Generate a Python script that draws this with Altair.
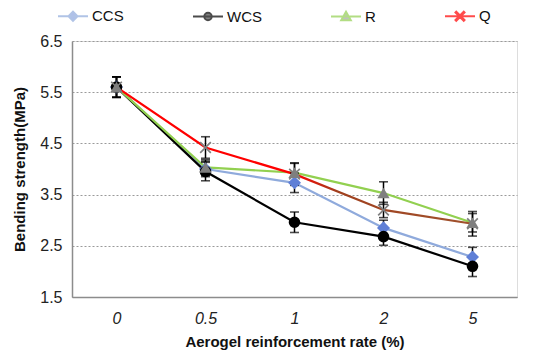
import altair as alt
import pandas as pd

rates = ["0", "0.5", "1", "2", "5"]
series = ["CCS", "WCS", "R", "Q"]
ccs = [5.60, 4.00, 3.73, 2.85, 2.28]
wcs = [5.60, 3.95, 2.96, 2.68, 2.10]
r_vals = [5.60, 4.03, 3.93, 3.53, 2.95]
q_vals = [5.60, 4.42, 3.90, 3.20, 2.93]
ccs_err = [0.20, 0.15, 0.19, 0.15, 0.19]
wcs_err = [0.20, 0.18, 0.20, 0.17, 0.20]
r_err = [0.20, 0.15, 0.18, 0.22, 0.18]
q_err = [0.20, 0.21, 0.22, 0.15, 0.24]

values = {"CCS": ccs, "WCS": wcs, "R": r_vals, "Q": q_vals}
errors = {"CCS": ccs_err, "WCS": wcs_err, "R": r_err, "Q": q_err}
rows = []
for s in series:
    for i, rt in enumerate(rates):
        rows.append({"series": s, "rate": rt, "value": values[s][i], "err": errors[s][i]})
df = pd.DataFrame(rows)

FONT = "Liberation Sans"
line_colors = ["#8FAADC", "#000000", "#92D050", "#FF0000"]
marker_colors = ["#5F7FD6", "#000000", "#7F7F7F", "#7F7F7F"]
legend_paths = [
    "M-1,0H1M0,-0.3L0.3,0L0,0.3L-0.3,0Z",
    "M-1,0H1M0.25,0A0.25,0.25 0 1,1 -0.25,0A0.25,0.25 0 1,1 0.25,0Z",
    "M-1,0H1M0,-0.32L0.32,0.25L-0.32,0.25Z",
    "M-1,0H1M-0.25,-0.3L0,-0.05L0.25,-0.3L0.3,-0.25L0.05,0L0.3,0.25L0.25,0.3L0,0.05L-0.25,0.3L-0.3,0.25L-0.05,0L-0.3,-0.25Z",
]

x_enc = alt.X(
    "rate:N",
    sort=rates,
    scale=alt.Scale(type="point", padding=0.5),
    axis=alt.Axis(
        title="Aerogel reinforcement rate (%)",
        labelAngle=0,
        labelFontStyle="italic",
        labelFontSize=16,
        labelFont=FONT,
        labelColor="#222222",
        labelPadding=13,
        ticks=False,
        domainColor="#8C8C8C",
        domainWidth=1.5,
        grid=False,
        titleFont=FONT,
        titleFontSize=15,
        titleFontWeight="bold",
        titleColor="#111111",
        titlePadding=8,
    ),
)
y_enc = alt.Y(
    "value:Q",
    scale=alt.Scale(domain=[1.5, 6.5], nice=False, zero=False),
    axis=alt.Axis(
        title="Bending strength(MPa)",
        values=[1.5, 2.5, 3.5, 4.5, 5.5, 6.5],
        format=".1f",
        labelFontSize=16,
        labelFont=FONT,
        labelColor="#222222",
        labelPadding=10,
        ticks=False,
        domainColor="#8C8C8C",
        domainWidth=1.5,
        grid=True,
        gridColor="#9A9A9A",
        gridDash=[2, 2],
        gridWidth=1,
        titleFont=FONT,
        titleFontSize=15,
        titleFontWeight="bold",
        titleColor="#111111",
        titlePadding=12,
    ),
)

base = alt.Chart(df)

lines = base.transform_filter(alt.datum.series != "Q").mark_line(strokeWidth=2.2).encode(
    x=x_enc,
    y=y_enc,
    color=alt.Color("series:N", scale=alt.Scale(domain=series, range=line_colors), legend=None),
)

q_line = base.transform_filter(alt.datum.series == "Q").mark_line(
    strokeWidth=2.2,
    color=alt.Gradient(
        gradient="linear",
        stops=[
            alt.GradientStop(color="#FF0000", offset=0),
            alt.GradientStop(color="#FF0000", offset=0.5),
            alt.GradientStop(color="#A0401E", offset=0.62),
            alt.GradientStop(color="#A0522D", offset=1),
        ],
        x1=0, x2=1, y1=0, y2=0,
    ),
).encode(x=x_enc, y=y_enc)

err_base = base.transform_calculate(
    lo="datum.value - datum.err", hi="datum.value + datum.err"
)
err_rule = err_base.mark_rule(color="#000000", strokeWidth=1.5).encode(
    x=x_enc, y="lo:Q", y2="hi:Q", detail="series:N"
)
cap_lo = err_base.mark_tick(color="#000000", thickness=1.6, size=9, orient="horizontal").encode(
    x=x_enc, y="lo:Q", detail="series:N"
)
cap_hi = err_base.mark_tick(color="#000000", thickness=1.6, size=9, orient="horizontal").encode(
    x=x_enc, y="hi:Q", detail="series:N"
)

marker_specs = [
    ("CCS", "diamond", marker_colors[0], 170),
    ("WCS", "circle", marker_colors[1], 135),
    ("R", "triangle-up", marker_colors[2], 150),
    ("Q", "M-1,-0.8L-0.8,-1L0,-0.2L0.8,-1L1,-0.8L0.2,0L1,0.8L0.8,1L0,0.2L-0.8,1L-1,0.8L-0.2,0Z", marker_colors[3], 140),
]
markers = []
for name, shp, col, sz in marker_specs:
    markers.append(
        base.transform_filter(alt.datum.series == name)
        .mark_point(shape=shp, filled=True, fill=col, size=sz, opacity=1, strokeWidth=0)
        .encode(x=x_enc, y=y_enc)
    )

leg = alt.Legend(
    title=None,
    orient="none",
    legendX=-15,
    legendY=-41,
    direction="horizontal",
    symbolSize=900,
    symbolStrokeWidth=2,
    labelFont=FONT,
    labelFontSize=15,
    labelColor="#111111",
    labelOffset=3,
    columnPadding=65,
)
legend_layer = base.transform_filter("false").mark_point(filled=True).encode(
    x=x_enc,
    y=y_enc,
    fill=alt.Fill("series:N", scale=alt.Scale(domain=series, range=marker_colors), legend=leg),
    stroke=alt.Stroke("series:N", scale=alt.Scale(domain=series, range=line_colors), legend=leg),
    shape=alt.Shape("series:N", scale=alt.Scale(domain=series, range=legend_paths), legend=leg),
)

chart = alt.layer(legend_layer, lines, q_line, err_rule, cap_lo, cap_hi, *markers).properties(
    width=445,
    height=256,
    padding={"left": 64, "top": 33, "right": 20, "bottom": 56},
    autosize=alt.AutoSizeParams(type="none"),
).configure_view(stroke=None).configure(background="#FFFFFF")

chart.save("out.html", embed_options={"renderer": "svg", "actions": False})
